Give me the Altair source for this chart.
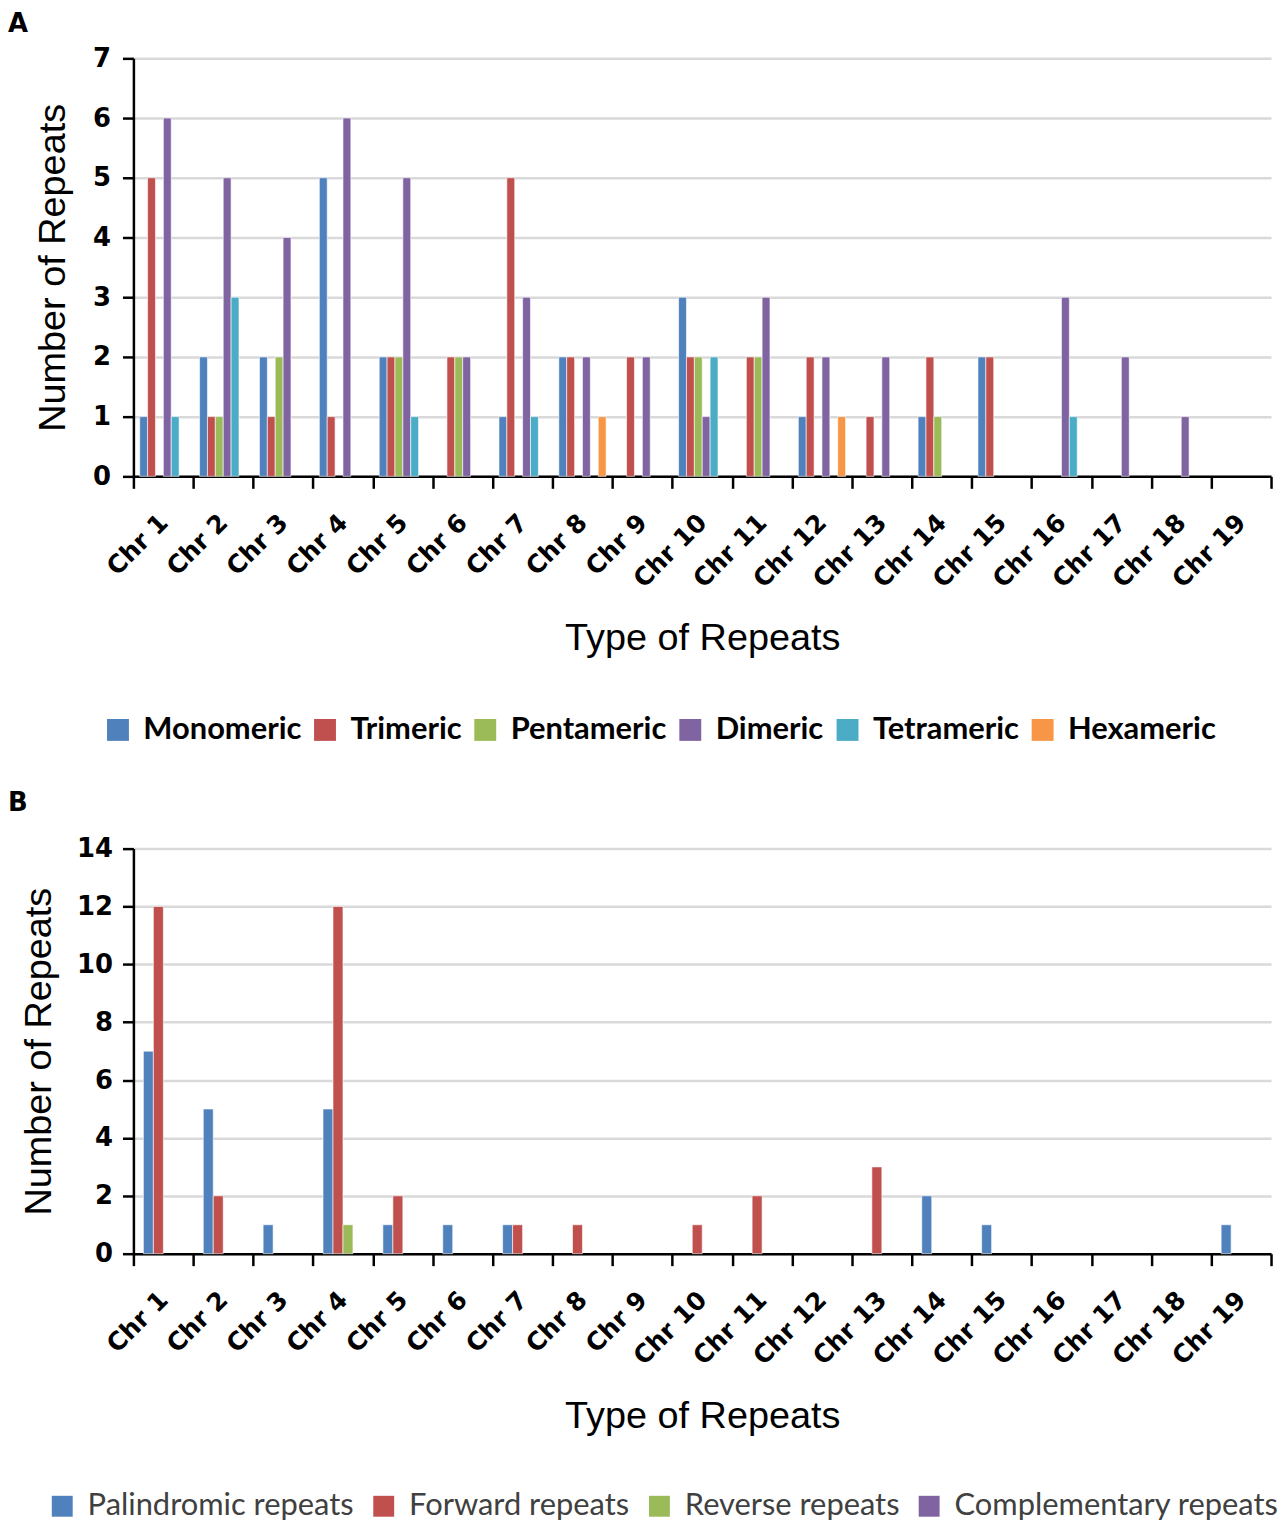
import altair as alt
import pandas as pd

chromosomes = ["Chr 1", "Chr 2", "Chr 3", "Chr 4", "Chr 5", "Chr 6", "Chr 7", "Chr 8",
               "Chr 9", "Chr 10", "Chr 11", "Chr 12", "Chr 13", "Chr 14", "Chr 15",
               "Chr 16", "Chr 17", "Chr 18", "Chr 19"]

# Panel A – SSR types
series_a = ["Monomeric", "Trimeric", "Pentameric", "Dimeric", "Tetrameric", "Hexameric"]
colors_a = ["#4F81BD", "#C0504D", "#9BBB59", "#8064A2", "#4BACC6", "#F79646"]
monomeric = [1, 2, 2, 5, 2, 0, 1, 2, 0, 3, 0, 1, 0, 1, 2, 0, 0, 0, 0]
trimeric = [5, 1, 1, 1, 2, 2, 5, 2, 2, 2, 2, 2, 1, 2, 2, 0, 0, 0, 0]
pentameric = [0, 1, 2, 0, 2, 2, 0, 0, 0, 2, 2, 0, 0, 1, 0, 0, 0, 0, 0]
dimeric = [6, 5, 4, 6, 5, 2, 3, 2, 2, 1, 3, 2, 2, 0, 0, 3, 2, 1, 0]
tetrameric = [1, 3, 0, 0, 1, 0, 1, 0, 0, 2, 0, 0, 0, 0, 0, 1, 0, 0, 0]
hexameric = [0, 0, 0, 0, 0, 0, 0, 1, 0, 0, 0, 1, 0, 0, 0, 0, 0, 0, 0]
ticks_a = [0, 1, 2, 3, 4, 5, 6, 7]

# Panel B – long repeat types
series_b = ["Palindromic repeats", "Forward repeats", "Reverse repeats", "Complementary repeats"]
colors_b = ["#4F81BD", "#C0504D", "#9BBB59", "#8064A2"]
palindromic = [7, 5, 1, 5, 1, 1, 1, 0, 0, 0, 0, 0, 0, 2, 1, 0, 0, 0, 1]
forward = [12, 2, 0, 12, 2, 0, 1, 1, 0, 1, 2, 0, 3, 0, 0, 0, 0, 0, 0]
reverse = [0, 0, 0, 1, 0, 0, 0, 0, 0, 0, 0, 0, 0, 0, 0, 0, 0, 0, 0]
complementary = [0, 0, 0, 0, 0, 0, 0, 0, 0, 0, 0, 0, 0, 0, 0, 0, 0, 0, 0]
ticks_b = [0, 2, 4, 6, 8, 10, 12, 14]


def long_table(names, columns):
    rows = []
    for name, vals in zip(names, columns):
        for chrom, v in zip(chromosomes, vals):
            if v > 0:
                rows.append({"chr": chrom, "type": name, "count": v})
    return pd.DataFrame(rows)


df_a = long_table(series_a, [monomeric, trimeric, pentameric, dimeric, tetrameric, hexameric])
df_b = long_table(series_b, [palindromic, forward, reverse, complementary])

TICK_FONT = "DejaVu Sans"
TITLE_FONT = "Liberation Sans"


def x_axis():
    return alt.Axis(
        title="Type of Repeats", tickBand="extent", labelAngle=-45, labelAlign="right",
        labelBaseline="middle", labelFont=TICK_FONT, labelFontWeight="bold", labelFontSize=25,
        labelColor="black", labelPadding=30, tickSize=12, tickWidth=2.5, tickColor="black",
        domainColor="black", domainWidth=2.5, grid=False, titleFont=TITLE_FONT,
        titleFontSize=38, titleFontWeight="normal", titleColor="black", titlePadding=28,
        labelOverlap=False,
    )


def y_axis(values, label_pad, title_pad):
    return alt.Axis(
        title="Number of Repeats", values=values, format="d", labelFont=TICK_FONT,
        labelFontWeight="bold", labelFontSize=26, labelColor="black", labelPadding=label_pad,
        tickSize=11, tickWidth=2.5, tickColor="black", domainColor="black", domainWidth=2.5,
        grid=True, gridColor="#D9D9D9", gridWidth=2.5, titleFont=TITLE_FONT, titleFontSize=38,
        titleFontWeight="normal", titleColor="black", titlePadding=title_pad,
    )


chart_a = alt.Chart(df_a).mark_bar(stroke="white", strokeWidth=0.6).encode(
    x=alt.X("chr:N", sort=chromosomes, scale=alt.Scale(domain=chromosomes, paddingInner=0, paddingOuter=0), axis=x_axis()),
    xOffset=alt.XOffset("type:N", sort=series_a, scale=alt.Scale(domain=series_a, paddingInner=0, paddingOuter=0.8)),
    y=alt.Y("count:Q", scale=alt.Scale(domain=[0, 7]), axis=y_axis(ticks_a, 12, 20)),
    color=alt.Color("type:N", scale=alt.Scale(domain=series_a, range=colors_a),
                    legend=alt.Legend(title=None, orient="none", direction="horizontal",
                                      legendX=-31, legendY=659, symbolType="square",
                                      symbolSize=484, symbolStrokeWidth=0, labelFont="Lato",
                                      labelFontWeight="bold", labelFontSize=31, labelColor="black",
                                      labelOffset=10, columnPadding=8, labelLimit=400)),
).properties(
    width=1143, height=420,
    title=alt.TitleParams("A", anchor="start", frame="group", dx=-126, offset=8,
                          font=TICK_FONT, fontSize=26, fontWeight="bold", color="black"),
)

chart_b = alt.Chart(df_b).mark_bar(stroke="white", strokeWidth=0.6).encode(
    x=alt.X("chr:N", sort=chromosomes, scale=alt.Scale(domain=chromosomes, paddingInner=0, paddingOuter=0), axis=x_axis()),
    xOffset=alt.XOffset("type:N", sort=series_b, scale=alt.Scale(domain=series_b, paddingInner=0, paddingOuter=1.0)),
    y=alt.Y("count:Q", scale=alt.Scale(domain=[0, 14]), axis=y_axis(ticks_b, 10, 18)),
    color=alt.Color("type:N", scale=alt.Scale(domain=series_b, range=colors_b),
                    legend=alt.Legend(title=None, orient="none", direction="horizontal",
                                      legendX=-87, legendY=645, symbolType="square",
                                      symbolSize=441, symbolStrokeWidth=0, labelFont="Lato",
                                      labelFontWeight="normal", labelFontSize=31, labelColor="#404040",
                                      labelOffset=10, columnPadding=14, labelLimit=500)),
).properties(
    width=1143, height=407,
    title=alt.TitleParams("B", anchor="start", frame="group", dx=-126, offset=20,
                          font=TICK_FONT, fontSize=26, fontWeight="bold", color="black"),
)

chart = alt.concat(chart_a, chart_b, columns=1, spacing=45, align="none", padding=0).resolve_scale(
    color="independent", x="independent", y="independent", xOffset="independent"
).configure_view(stroke=None)

chart.save("out.html", embed_options={"renderer": "svg", "actions": False})
